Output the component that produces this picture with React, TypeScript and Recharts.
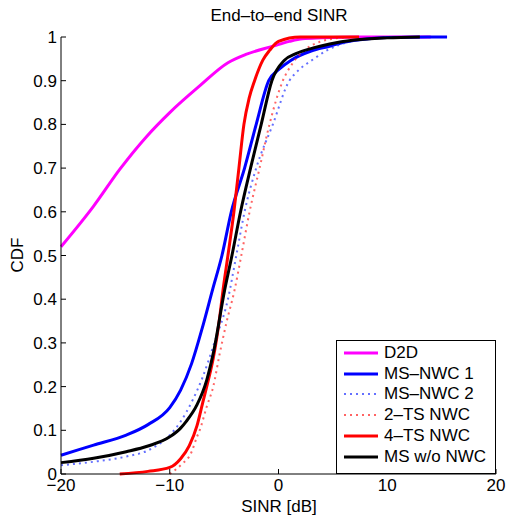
import { LineChart, Line, XAxis, YAxis, CartesianGrid } from "recharts";

// SINR [dB] values (x) and CDF values (y)
const d2dSinr = [-20, -17, -14.6, -12.1, -10, -7.25, -4.65, -3, -0.5, 1, 2.2, 4, 7.4, 14];
const d2dCdf = [0.52, 0.613, 0.697, 0.773, 0.827, 0.888, 0.941, 0.96, 0.979, 0.99, 0.996, 0.998, 1, 1];

const msNwc1Sinr = [-20, -17, -14, -12, -10, -9, -8, -7, -6.03, -5.2, -4.34, -3.12, -2.05, -0.9, 0, 1.16, 3, 4.7, 6, 8.3, 10, 15.5];
const msNwc1Cdf = [0.043, 0.066, 0.089, 0.113, 0.152, 0.192, 0.252, 0.335, 0.425, 0.5, 0.6, 0.7, 0.8, 0.9, 0.925, 0.947, 0.968, 0.979, 0.988, 0.996, 0.999, 1];

const msNwc2Sinr = [-20, -17, -14, -12, -10, -9, -7.9, -7, -5.9, -4.65, -3.88, -3.12, -2.05, -0.52, 1.0, 1.6, 3.2, 4.5, 6.5, 8.3, 12];
const msNwc2Cdf = [0.02, 0.028, 0.04, 0.054, 0.089, 0.12, 0.169, 0.22, 0.3, 0.4, 0.5, 0.6, 0.7, 0.8, 0.9, 0.918, 0.949, 0.97, 0.989, 0.997, 1];

const ts2Sinr = [-10, -9, -8, -7.5, -7.25, -6.6, -6, -5.4, -4.8, -4.04, -3.42, -2.66, -1.74, -0.83, 0.4, 1.3, 2.5, 3.8, 5, 7];
const ts2Cdf = [0, 0.02, 0.05, 0.085, 0.1, 0.154, 0.2, 0.276, 0.345, 0.421, 0.5, 0.6, 0.7, 0.8, 0.9, 0.94, 0.972, 0.989, 0.996, 1];

const ts4Sinr = [-14.6, -12, -10, -9, -8.2, -7.5, -7, -6.5, -6, -5.4, -5.1, -4.65, -4.1, -3.64, -3.18, -2.7, -2.2, -1.44, -0.8, 0, 2, 7.4];
const ts4Cdf = [0, 0.006, 0.015, 0.035, 0.065, 0.11, 0.16, 0.21, 0.265, 0.36, 0.421, 0.5, 0.6, 0.7, 0.8, 0.86, 0.9, 0.947, 0.97, 0.99, 1, 1];

const msNoNwcSinr = [-20, -17, -14, -12, -10, -9, -8.5, -7.5, -6.6, -6, -4.95, -4.28, -3.49, -2.57, -1.59, -0.61, 0.55, 1.6, 3.2, 4.7, 7, 10, 13];
const msNoNwcCdf = [0.026, 0.036, 0.051, 0.064, 0.085, 0.105, 0.12, 0.158, 0.215, 0.276, 0.421, 0.5, 0.6, 0.7, 0.8, 0.9, 0.947, 0.962, 0.975, 0.984, 0.993, 0.998, 1];

const xTicks = [-20, -10, 0, 10, 20];
const yTicks = [0, 0.1, 0.2, 0.3, 0.4, 0.5, 0.6, 0.7, 0.8, 0.9, 1];

const toPoints = (xs: number[], ys: number[]) => xs.map((x, i) => ({ x, y: ys[i] }));

const series = [
  { name: "D2D", data: toPoints(d2dSinr, d2dCdf), color: "#ff00ff", width: 3, dash: undefined, opacity: 1 },
  { name: "MS\u2013NWC 1", data: toPoints(msNwc1Sinr, msNwc1Cdf), color: "#0000ff", width: 3, dash: undefined, opacity: 1 },
  { name: "MS\u2013NWC 2", data: toPoints(msNwc2Sinr, msNwc2Cdf), color: "#2233ff", width: 2, dash: "2 4", opacity: 0.7 },
  { name: "2\u2013TS NWC", data: toPoints(ts2Sinr, ts2Cdf), color: "#ff2222", width: 2, dash: "2 4", opacity: 0.7 },
  { name: "4\u2013TS NWC", data: toPoints(ts4Sinr, ts4Cdf), color: "#ff0000", width: 3, dash: undefined, opacity: 1 },
  { name: "MS w/o NWC", data: toPoints(msNoNwcSinr, msNoNwcCdf), color: "#000000", width: 3, dash: undefined, opacity: 1 },
];

const font = "'Liberation Sans', Arial, sans-serif";
const tickStyle = { fill: "#000", fontSize: 17, fontFamily: font };
const minus = (v: number) => String(v).replace("-", "\u2212");

export default function App() {
  return (
    <div style={{ position: "absolute", left: 0, top: 0, width: 508, height: 515, background: "#fff", fontFamily: font }}>
      <LineChart width={508} height={515} margin={{ top: 37, right: 12, bottom: 11, left: 21 }}>
        <CartesianGrid stroke="#777" strokeDasharray="1 3" horizontalValues={yTicks} verticalValues={xTicks} />
        <XAxis
          xAxisId="b"
          dataKey="x"
          type="number"
          domain={[-20, 20]}
          ticks={xTicks}
          tickFormatter={minus}
          height={30}
          tickSize={-5}
          tickMargin={10}
          tick={tickStyle}
          stroke="#000"
          allowDuplicatedCategory={false}
        />
        <XAxis xAxisId="t" orientation="top" dataKey="x" type="number" domain={[-20, 20]} ticks={xTicks} tickFormatter={() => ""} height={0} tickSize={-5} stroke="#000" />
        <YAxis
          yAxisId="l"
          type="number"
          domain={[0, 1]}
          ticks={yTicks}
          width={40}
          tickSize={-5}
          tickMargin={9}
          tick={tickStyle}
          stroke="#000"
        />
        <YAxis yAxisId="r" orientation="right" type="number" domain={[0, 1]} ticks={yTicks} tickFormatter={() => ""} width={0} tickSize={-5} stroke="#000" />
        {series.map((s) => (
          <Line
            key={s.name}
            xAxisId="b"
            yAxisId="l"
            data={s.data}
            dataKey="y"
            type="monotone"
            stroke={s.color}
            strokeWidth={s.width}
            strokeDasharray={s.dash}
            strokeOpacity={s.opacity}
            dot={false}
            activeDot={false}
            isAnimationActive={false}
          />
        ))}
      </LineChart>

      <div style={{ position: "absolute", left: 0, width: 508, top: 6, textAlign: "center", fontSize: 17, lineHeight: "20px" }}>
        <span style={{ position: "relative", left: 25 }}>{"End\u2013to\u2013end SINR"}</span>
      </div>
      <div style={{ position: "absolute", left: 0, width: 508, top: 497, textAlign: "center", fontSize: 17, lineHeight: "20px" }}>
        <span style={{ position: "relative", left: 25 }}>SINR [dB]</span>
      </div>
      <div
        style={{
          position: "absolute",
          left: 18,
          top: 255,
          fontSize: 17,
          lineHeight: "20px",
          transform: "translate(-50%, -50%) rotate(-90deg)",
          whiteSpace: "nowrap",
        }}
      >
        CDF
      </div>

      <div
        style={{
          position: "absolute",
          left: 336,
          top: 340,
          width: 158,
          height: 132,
          border: "1px solid #000",
          background: "#fff",
          fontSize: 17,
        }}
      >
        {series.map((s, i) => (
          <div key={s.name} style={{ position: "absolute", left: 6, top: 2 + i * 20.7, height: 20, display: "flex", alignItems: "center" }}>
            <svg width={36} height={6}>
              <line x1={1} y1={3} x2={35} y2={3} stroke={s.color} strokeWidth={s.width} strokeDasharray={s.dash} strokeOpacity={s.opacity} />
            </svg>
            <span style={{ marginLeft: 5, whiteSpace: "nowrap" }}>{s.name}</span>
          </div>
        ))}
      </div>
    </div>
  );
}
